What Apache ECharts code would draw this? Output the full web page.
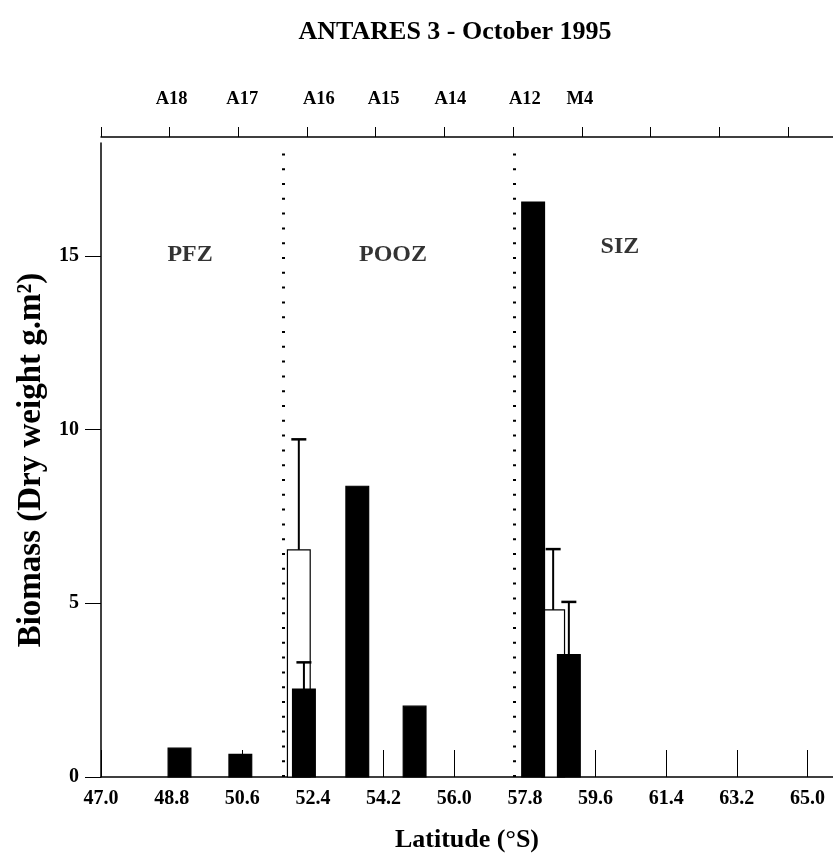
<!DOCTYPE html>
<html>
<head>
<meta charset="utf-8">
<script src="https://cdn.jsdelivr.net/npm/echarts@6/dist/echarts.min.js"></script>
<style>
  html, body { margin: 0; padding: 0; background: #fff; }
  #chart { width: 833px; height: 858px; }
</style>
</head>
<body>
<div id="chart"></div>
<script>
// latitude ticks (bottom axis) and regular ticks of the top axis
var latTicks = [47.0, 48.8, 50.6, 52.4, 54.2, 56.0, 57.8, 59.6, 61.4, 63.2, 65.0];
var topTicks = [47.0, 48.75, 50.5, 52.25, 54.0, 55.75, 57.5, 59.25, 61.0, 62.75, 64.5];
var yTicks = [0, 5, 10, 15];

// stations along the top
var stationNames = ['A18', 'A17', 'A16', 'A15', 'A14', 'A12', 'M4'];
var stationLat = [48.8, 50.6, 52.55, 54.2, 55.9, 57.8, 59.2];

// black bars (with error where there is one)
var blackLat = [49.0, 50.55, 52.17, 53.53, 54.99, 58.01, 58.92];
var blackVal = [0.83, 0.65, 2.53, 8.37, 2.04, 16.55, 3.52];
var blackErr = [null, null, 3.30, null, null, null, 5.04];

// white bars
var whiteLat = [52.04, 58.52];
var whiteVal = [6.54, 4.81];
var whiteErr = [9.72, 6.56];

// fronts and zones
var frontLat = [51.64, 57.52];
var zoneNames = ['PFZ', 'POOZ', 'SIZ'];
var zoneLat = [49.27, 54.44, 60.22];
var zoneY = [15.04, 15.04, 15.27];

var FONT = 'Liberation Serif';
var BAR_W = 0.58;

function toData(lat, val, err) {
    return lat.map(function (x, i) {
        return [x, val[i], err[i] == null ? '-' : err[i]];
    });
}

function makeRender(fill) {
    return function (params, api) {
        var x = api.value(0), v = api.value(1), e = api.value(2);
        var base = api.coord([x, 0]);
        var top = api.coord([x, v]);
        var w = api.size([BAR_W, 0])[0];
        var kids = [{
            type: 'rect',
            shape: { x: base[0] - w / 2, y: top[1], width: w, height: base[1] - top[1] },
            style: { fill: fill, stroke: '#000', lineWidth: 1.2 }
        }];
        if (!isNaN(e)) {
            var et = api.coord([x, e]);
            kids.push({
                type: 'line',
                shape: { x1: base[0], y1: top[1], x2: base[0], y2: et[1] },
                style: { stroke: '#000', lineWidth: 2 }
            });
            kids.push({
                type: 'line',
                shape: { x1: base[0] - 7.5, y1: et[1], x2: base[0] + 7.5, y2: et[1] },
                style: { stroke: '#000', lineWidth: 2.5 }
            });
        }
        return { type: 'group', children: kids };
    };
}

var myChart = echarts.init(document.getElementById('chart'));
myChart.setOption({
    backgroundColor: '#fff',
    animation: false,
    title: {
        text: 'ANTARES 3 - October 1995',
        left: 450,
        top: 14,
        textAlign: 'center',
        textStyle: { fontFamily: FONT, fontWeight: 'bold', fontSize: 26, color: '#000' }
    },
    grid: { left: 101, right: 0, top: 143, bottom: 78 },
    xAxis: [{
        type: 'value',
        position: 'bottom',
        min: 47,
        max: 65.65,
        name: 'Latitude (°S)',
        nameLocation: 'middle',
        nameGap: 50,
        nameTextStyle: { fontFamily: FONT, fontWeight: 'bold', fontSize: 26, color: '#000' },
        axisLine: { lineStyle: { color: '#000', width: 1.5 } },
        axisTick: { inside: true, length: 27, customValues: latTicks, lineStyle: { color: '#000', width: 1 } },
        axisLabel: {
            customValues: latTicks,
            margin: 12,
            fontFamily: FONT, fontWeight: 'bold', fontSize: 20, color: '#000',
            formatter: function (v) { return v.toFixed(1); }
        },
        splitLine: { show: false }
    }, {
        type: 'value',
        position: 'top',
        offset: 6,
        min: 47,
        max: 65.65,
        axisLine: { lineStyle: { color: '#000', width: 1.5 } },
        axisTick: { inside: false, length: 10, customValues: topTicks, lineStyle: { color: '#000', width: 1 } },
        axisLabel: {
            customValues: stationLat,
            margin: 28,
            fontFamily: FONT, fontWeight: 'bold', fontSize: 18.5, color: '#000',
            formatter: function (v) {
                var i = stationLat.findIndex(function (s) { return Math.abs(s - v) < 1e-6; });
                return i < 0 ? '' : stationNames[i];
            }
        },
        splitLine: { show: false }
    }],
    yAxis: {
        type: 'value',
        min: 0,
        max: 18.25,
        name: 'Biomass (Dry weight g.m²)',
        nameLocation: 'middle',
        nameGap: 48,
        nameTextStyle: { fontFamily: FONT, fontWeight: 'bold', fontSize: 33, color: '#000' },
        axisLine: { lineStyle: { color: '#000', width: 1.5 } },
        axisTick: { length: 16, customValues: yTicks, lineStyle: { color: '#000', width: 1 } },
        axisLabel: {
            customValues: yTicks,
            margin: 22,
            fontFamily: FONT, fontWeight: 'bold', fontSize: 20, color: '#000'
        },
        splitLine: { show: false }
    },
    series: [{
        type: 'custom',
        name: 'white',
        renderItem: makeRender('#fff'),
        encode: { x: 0, y: 1 },
        data: toData(whiteLat, whiteVal, whiteErr),
        z: 3
    }, {
        type: 'custom',
        name: 'black',
        renderItem: makeRender('#000'),
        encode: { x: 0, y: 1 },
        data: toData(blackLat, blackVal, blackErr),
        z: 4
    }, {
        type: 'scatter',
        symbolSize: 0,
        itemStyle: { color: '#000' },
        data: zoneNames.map(function (n, i) { return { name: n, value: [zoneLat[i], zoneY[i]] }; }),
        label: {
            show: true,
            position: 'inside',
            formatter: '{b}',
            textBorderWidth: 0,
            fontFamily: FONT, fontWeight: 'bold', fontSize: 24, color: '#000'
        },
        markLine: {
            silent: true,
            symbol: 'none',
            label: { show: false },
            lineStyle: { type: [2, 12.8], width: 3, color: '#000' },
            data: frontLat.map(function (x) { return { xAxis: x }; })
        },
        z: 2
    }]
});
</script>
</body>
</html>
